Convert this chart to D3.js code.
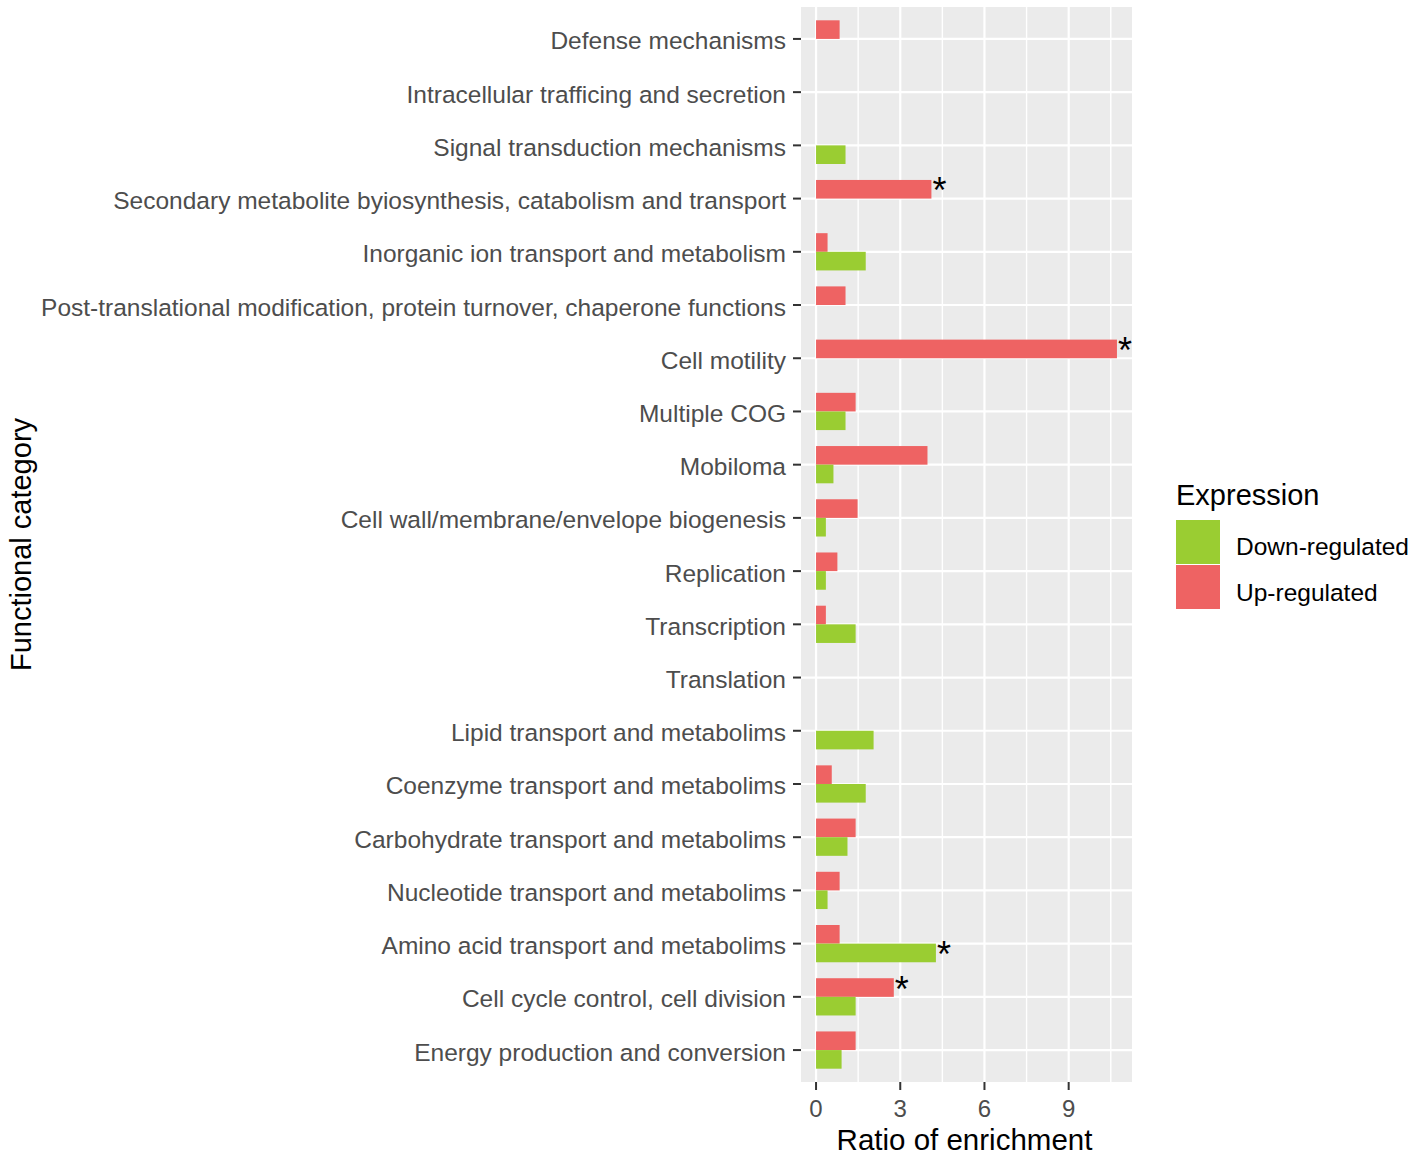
<!DOCTYPE html>
<html>
<head>
<meta charset="utf-8">
<script src="https://cdn.jsdelivr.net/npm/d3@7"></script>
<style>
  html, body { margin: 0; padding: 0; background: #fff; }
  svg { display: block; font-family: "Liberation Sans", Arial, sans-serif; }
</style>
</head>
<body>
<svg id="chart" width="1418" height="1159"></svg>
<script>
const categories = [
  "Defense mechanisms",
  "Intracellular trafficing and secretion",
  "Signal transduction mechanisms",
  "Secondary metabolite byiosynthesis, catabolism and transport",
  "Inorganic ion transport and metabolism",
  "Post-translational modification, protein turnover, chaperone functions",
  "Cell motility",
  "Multiple COG",
  "Mobiloma",
  "Cell wall/membrane/envelope biogenesis",
  "Replication",
  "Transcription",
  "Translation",
  "Lipid transport and metabolims",
  "Coenzyme transport and metabolims",
  "Carbohydrate transport and metabolims",
  "Nucleotide transport and metabolims",
  "Amino acid transport and metabolims",
  "Cell cycle control, cell division",
  "Energy production and conversion"
];
const upRegulated   = [0.84, 0, 0, 4.11, 0.41, 1.05, 10.72, 1.41, 3.97, 1.48, 0.76, 0.35, 0, 0, 0.56, 1.41, 0.84, 0.84, 2.77, 1.41];
const downRegulated = [0, 0, 1.05, 0, 1.77, 0, 0, 1.05, 0.62, 0.35, 0.35, 1.41, 0, 2.05, 1.77, 1.12, 0.41, 4.27, 1.41, 0.91];
const upSignificant   = ["Secondary metabolite byiosynthesis, catabolism and transport", "Cell motility", "Cell cycle control, cell division"];
const downSignificant = ["Amino acid transport and metabolims"];
const seriesNames = ["Down-regulated", "Up-regulated"];
const seriesColors = ["#9ACD32", "#EE6363"];
const xTicks = [0, 3, 6, 9];
const xMinor = [1.5, 4.5, 7.5, 10.5];

const svg = d3.select("#chart");
const panel = { left: 801, right: 1132, top: 7, bottom: 1082 };

const xMax = d3.max([...upRegulated, ...downRegulated]);
const pad = xMax * 0.05;
const x = d3.scaleLinear().domain([-pad, xMax + pad]).range([panel.left, panel.right]);
const y = d3.scaleBand().domain(categories).range([panel.top, panel.bottom]).paddingInner(0).paddingOuter(0.1);
const step = y.step();
const barH = step * 0.35;
const yc = c => y(c) + y.bandwidth() / 2;

// panel background
svg.append("rect")
  .attr("x", panel.left).attr("y", panel.top)
  .attr("width", panel.right - panel.left).attr("height", panel.bottom - panel.top)
  .attr("fill", "#EBEBEB");

const grid = svg.append("g");
grid.selectAll("line.minor").data(xMinor).join("line")
  .attr("x1", d => x(d)).attr("x2", d => x(d))
  .attr("y1", panel.top).attr("y2", panel.bottom)
  .attr("stroke", "#fff").attr("stroke-width", 1.4);
grid.selectAll("line.majx").data(xTicks).join("line")
  .attr("x1", d => x(d)).attr("x2", d => x(d))
  .attr("y1", panel.top).attr("y2", panel.bottom)
  .attr("stroke", "#fff").attr("stroke-width", 2.2);
grid.selectAll("line.majy").data(categories).join("line")
  .attr("x1", panel.left).attr("x2", panel.right)
  .attr("y1", d => yc(d)).attr("y2", d => yc(d))
  .attr("stroke", "#fff").attr("stroke-width", 2.2);

// bars
const bars = svg.append("g");
const upData = categories.map((c, i) => ({ c, v: upRegulated[i] })).filter(d => d.v > 0);
const downData = categories.map((c, i) => ({ c, v: downRegulated[i] })).filter(d => d.v > 0);
bars.selectAll("rect.up").data(upData).join("rect")
  .attr("x", x(0)).attr("y", d => yc(d.c) - barH)
  .attr("width", d => x(d.v) - x(0)).attr("height", barH)
  .attr("fill", seriesColors[1]);
bars.selectAll("rect.down").data(downData).join("rect")
  .attr("x", x(0)).attr("y", d => yc(d.c))
  .attr("width", d => x(d.v) - x(0)).attr("height", barH)
  .attr("fill", seriesColors[0]);

// significance stars
const stars = svg.append("g").attr("font-size", 36).attr("fill", "#000");
upData.filter(d => upSignificant.includes(d.c)).forEach(d => {
  stars.append("text").attr("x", x(d.v) + 1).attr("y", yc(d.c) - barH / 2 + 14).text("*");
});
downData.filter(d => downSignificant.includes(d.c)).forEach(d => {
  stars.append("text").attr("x", x(d.v) + 1).attr("y", yc(d.c) + barH / 2 + 14).text("*");
});

// y axis
const yAxis = svg.append("g");
categories.forEach(c => {
  yAxis.append("line").attr("x1", panel.left - 8).attr("x2", panel.left)
    .attr("y1", yc(c)).attr("y2", yc(c)).attr("stroke", "#333").attr("stroke-width", 2);
  yAxis.append("text").attr("x", panel.left - 15).attr("y", yc(c) + 2)
    .attr("text-anchor", "end").attr("dominant-baseline", "central")
    .attr("font-size", 24.5).attr("fill", "#4D4D4D").text(c);
});

// x axis
const xAxis = svg.append("g");
xTicks.forEach(t => {
  xAxis.append("line").attr("x1", x(t)).attr("x2", x(t))
    .attr("y1", panel.bottom).attr("y2", panel.bottom + 8).attr("stroke", "#333").attr("stroke-width", 2);
  xAxis.append("text").attr("x", x(t)).attr("y", panel.bottom + 35)
    .attr("text-anchor", "middle").attr("font-size", 24).attr("fill", "#4D4D4D").text(t);
});

// titles
svg.append("text").attr("x", (panel.left + panel.right) / 2 - 2).attr("y", 1150)
  .attr("text-anchor", "middle").attr("font-size", 29.5).attr("fill", "#000").text("Ratio of enrichment");
svg.append("text").attr("transform", `translate(31, ${(panel.top + panel.bottom) / 2}) rotate(-90)`)
  .attr("text-anchor", "middle").attr("font-size", 29).attr("fill", "#000").text("Functional category");

// legend
const legend = svg.append("g");
legend.append("text").attr("x", 1176).attr("y", 505).attr("font-size", 29).attr("fill", "#000").text("Expression");
seriesNames.forEach((s, i) => {
  legend.append("rect").attr("x", 1176).attr("y", 520 + i * 45).attr("width", 44).attr("height", 44)
    .attr("fill", seriesColors[i]);
  legend.append("text").attr("x", 1236).attr("y", 546 + i * 46).attr("dominant-baseline", "central")
    .attr("font-size", 24.5).attr("fill", "#000").text(s);
});
</script>
</body>
</html>
